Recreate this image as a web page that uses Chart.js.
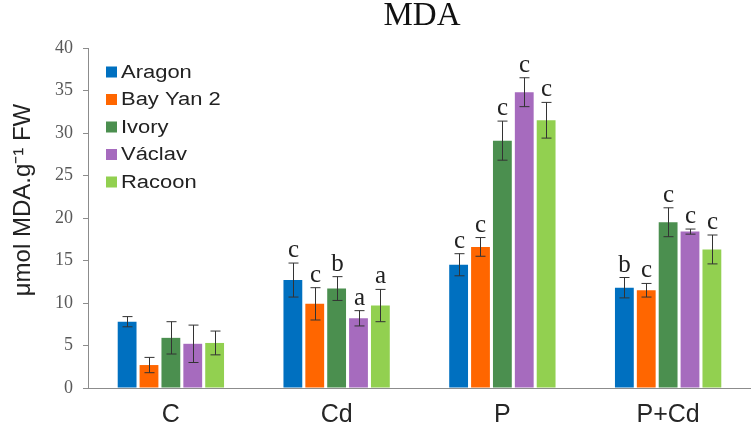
<!DOCTYPE html>
<html>
<head>
<meta charset="utf-8">
<script src="https://cdn.jsdelivr.net/npm/chart.js@4.4.1/dist/chart.umd.min.js"></script>
<style>
  html, body { margin: 0; padding: 0; background: #fff; }
  #wrap { width: 751px; height: 431px; position: relative; }
</style>
</head>
<body>
<div id="wrap"><canvas id="mda-chart"></canvas></div>
<script>
const treatments = ["C", "Cd", "P", "P+Cd"];
const cultivars = ["Aragon", "Bay Yan 2", "Ivory", "Václav", "Racoon"];
const colors = ["#0070C0", "#FF6600", "#4B8F4F", "#A66BBE", "#92D050"];

// mean values per cultivar, one per treatment
const aragon   = [7.8, 12.7, 14.5, 11.8];
const bayYan2  = [2.7, 9.9, 16.6, 11.5];
const ivory    = [5.9, 11.7, 29.1, 19.5];
const vaclav   = [5.2, 8.2, 34.8, 18.4];
const racoon   = [5.3, 9.7, 31.5, 16.3];

// error bar half widths
const aragonErr  = [0.6, 2.0, 1.3, 1.2];
const bayYan2Err = [0.9, 1.9, 1.1, 0.8];
const ivoryErr   = [1.9, 1.4, 2.3, 1.7];
const vaclavErr  = [2.2, 0.9, 1.7, 0.3];
const racoonErr  = [1.4, 1.9, 2.1, 1.7];

// significance letters ("" = none)
const aragonSig  = ["", "c", "c", "b"];
const bayYan2Sig = ["", "c", "c", "c"];
const ivorySig   = ["", "b", "c", "c"];
const vaclavSig  = ["", "a", "c", "c"];
const racoonSig  = ["", "a", "c", "c"];

const yTicks = [0, 5, 10, 15, 20, 25, 30, 35, 40];

const seriesValues = [aragon, bayYan2, ivory, vaclav, racoon];
const seriesErrors = [aragonErr, bayYan2Err, ivoryErr, vaclavErr, racoonErr];
const seriesLetters = [aragonSig, bayYan2Sig, ivorySig, vaclavSig, racoonSig];

const errorBarPlugin = {
  id: "errorBars",
  afterDatasetsDraw(chart) {
    const ctx = chart.ctx;
    const y = chart.scales.y;
    ctx.save();
    chart.data.datasets.forEach((ds, i) => {
      const meta = chart.getDatasetMeta(i);
      meta.data.forEach((bar, j) => {
        const v = ds.data[j];
        const e = ds.errors[j];
        const top = y.getPixelForValue(v + e);
        const bot = y.getPixelForValue(v - e);
        const x = Math.round(bar.x) + 0.5;
        ctx.strokeStyle = "#333";
        ctx.lineWidth = 1;
        ctx.beginPath();
        ctx.moveTo(x, top); ctx.lineTo(x, bot);
        ctx.moveTo(x - 5, top); ctx.lineTo(x + 5, top);
        ctx.moveTo(x - 5, bot); ctx.lineTo(x + 5, bot);
        ctx.stroke();
        const letter = ds.letters[j];
        if (letter) {
          ctx.fillStyle = "#222";
          ctx.font = "25px 'Liberation Serif', 'Times New Roman', serif";
          ctx.textAlign = "center";
          ctx.textBaseline = "alphabetic";
          ctx.fillText(letter, x, top - 6);
        }
      });
    });
    ctx.restore();
  }
};

const legendPlugin = {
  id: "insideLegend",
  afterDraw(chart) {
    const ctx = chart.ctx;
    ctx.save();
    ctx.font = "18px 'Liberation Sans', Arial, sans-serif";
    ctx.textBaseline = "middle";
    ctx.textAlign = "left";
    chart.data.datasets.forEach((ds, i) => {
      const cy = 72 + i * 27.5;
      ctx.fillStyle = ds.backgroundColor;
      ctx.fillRect(106, cy - 5.5, 11, 11);
      ctx.fillStyle = "#222";
      ctx.save();
      ctx.translate(121, cy + 1);
      ctx.scale(1.22, 1);
      ctx.fillText(ds.label, 0, 0);
      ctx.restore();
    });
    ctx.restore();
  }
};

const textPlugin = {
  id: "mdaTexts",
  afterDraw(chart) {
    const ctx = chart.ctx;
    ctx.save();
    ctx.font = "33px 'Liberation Serif', 'Times New Roman', serif";
    ctx.fillStyle = "#111";
    ctx.textAlign = "center";
    ctx.textBaseline = "alphabetic";
    ctx.fillText("MDA", 422, 25);

    ctx.translate(30, 200);
    ctx.rotate(-Math.PI / 2);
    ctx.font = "24px 'Liberation Sans', Arial, sans-serif";
    ctx.fillStyle = "#222";
    ctx.fillText("μmol MDA.g⁻¹ FW", 0, 0);
    ctx.restore();
  }
};

const ctx = document.getElementById("mda-chart").getContext("2d");

new Chart(ctx, {
  type: "bar",
  data: {
    labels: treatments,
    datasets: cultivars.map((name, i) => ({
      label: name,
      data: seriesValues[i],
      errors: seriesErrors[i],
      letters: seriesLetters[i],
      backgroundColor: colors[i],
      borderWidth: 0,
      barPercentage: 0.86,
      categoryPercentage: 0.66
    }))
  },
  options: {
    responsive: true,
    maintainAspectRatio: false,
    animation: false,
    layout: { padding: { top: 48, right: 0, left: 0, bottom: 0 } },
    plugins: {
      legend: { display: false },
      title: { display: false },
      tooltip: { enabled: false }
    },
    scales: {
      x: {
        grid: { display: false, drawTicks: false },
        border: { display: true, color: "#8c8c8c", width: 1 },
        ticks: {
          padding: 12,
          color: "#262626",
          font: { size: 25, family: "'Liberation Sans', Arial, sans-serif" }
        },
        afterFit(scale) { scale.height = 43; }
      },
      y: {
        min: 0,
        max: 40,
        afterBuildTicks(scale) { scale.ticks = yTicks.map(v => ({ value: v })); },
        grid: { display: true, drawOnChartArea: false, drawTicks: true, tickLength: 5, color: "#8c8c8c" },
        border: { display: true, color: "#8c8c8c", width: 1 },
        ticks: {
          padding: 10,
          color: "#595959",
          font: { size: 18, family: "'Liberation Serif', 'Times New Roman', serif" }
        },
        title: { display: false },
        afterFit(scale) { scale.width = 88; }
      }
    }
  },
  plugins: [errorBarPlugin, legendPlugin, textPlugin]
});
</script>
</body>
</html>
